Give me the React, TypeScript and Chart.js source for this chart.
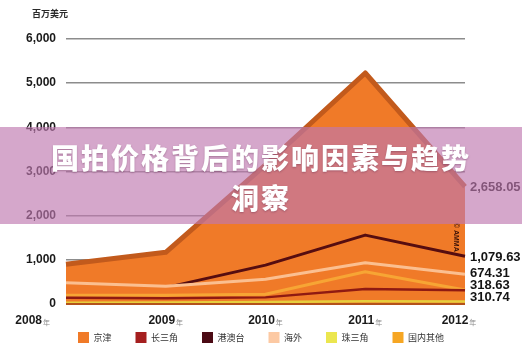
import React, { useEffect, useRef } from "react";
import { Chart, registerables } from "chart.js";

Chart.register(...registerables);

// ---- data ----
const years = ["2008", "2009", "2010", "2011", "2012"];
const yearSuffix = "年";
const seriesNames = ["京津", "长三角", "港澳台", "海外", "珠三角", "国内其他"];
const jingjin = [900, 1170, 3150, 5230, 2658.05];
const changsanjiao = [140, 130, 150, 340, 310.74];
const gangaotai = [300, 370, 880, 1560, 1079.63];
const haiwai = [480, 400, 560, 935, 674.31];
const zhusanjiao = [30, 35, 45, 60, 55];
const guoneiqita = [200, 200, 220, 730, 318.63];
const yMin = 0;
const yMax = 6000;
const yStep = 1000;
const unitLabel = "百万美元";
const endLabelSeries = ["京津", "港澳台", "海外", "国内其他", "长三角"];
const creditText = "© AMMA";
const bannerLine1 = "国拍价格背后的影响因素与趋势";
const bannerLine2 = "洞察";

// ---- styles ----
const areaFill = "#f07a28";
const legendColors = ["#f07a28", "#a51f1f", "#4b0a14", "#fcc9a3", "#ebe64f", "#f6a623"];
const lineColors = ["#c25a1c", "#8f1a12", "#560d10", "#fbbf90", "#e6cf3e", "#f7a534"];
const lineWidths = [5, 2.5, 3, 3, 2.5, 3];
const drawOrder = [6, 2, 5, 4, 1, 3];
const seriesValues = [jingjin, changsanjiao, gangaotai, haiwai, zhusanjiao, guoneiqita];

const NARROW = '"Liberation Sans Narrow", "Liberation Sans", Arial, sans-serif';
const CJK = '"Noto Sans CJK SC", "Noto Sans", sans-serif';

const numFmt = (v: number, d: number) =>
  new Intl.NumberFormat("en-US", { minimumFractionDigits: d, maximumFractionDigits: d }).format(v);

const decorPlugin = {
  id: "decor",
  afterDatasetsDraw(chart: any) {
    const { ctx, chartArea, scales } = chart;
    const y = scales.y;
    const x = scales.x;
    ctx.save();
    // bottom edge
    ctx.strokeStyle = "#b4521a";
    ctx.lineWidth = 2;
    ctx.beginPath();
    ctx.moveTo(chartArea.left, y.getPixelForValue(0));
    ctx.lineTo(chartArea.right, y.getPixelForValue(0));
    ctx.stroke();

    // end labels
    const entries = endLabelSeries
      .map((name) => {
        const idx = seriesNames.indexOf(name);
        const vals = seriesValues[idx];
        const v = vals[vals.length - 1];
        return { v, y: y.getPixelForValue(v) };
      })
      .sort((a, b) => b.v - a.v);
    const gap = 12;
    for (let it = 0; it < 30; it++) {
      for (let i = 1; i < entries.length; i++) {
        const d = entries[i].y - entries[i - 1].y;
        if (d < gap) {
          const push = (gap - d) / 2;
          entries[i].y += push;
          entries[i - 1].y -= push;
        }
      }
    }
    ctx.font = `bold 13px ${NARROW}`;
    ctx.fillStyle = "#141414";
    ctx.textAlign = "left";
    ctx.textBaseline = "middle";
    entries.forEach((e) => ctx.fillText(numFmt(e.v, 2), chartArea.right + 5, e.y + 1));

    // credit
    const gi = seriesNames.indexOf("港澳台");
    const gv = seriesValues[gi][seriesValues[gi].length - 1];
    ctx.save();
    ctx.translate(chartArea.right - 9, y.getPixelForValue(gv) - 19);
    ctx.rotate(Math.PI / 2);
    ctx.font = `bold 7px "Liberation Sans", Arial, sans-serif`;
    ctx.fillStyle = "#3b1208";
    ctx.textAlign = "center";
    ctx.textBaseline = "middle";
    ctx.fillText(creditText, 0, 0);
    ctx.restore();

    // unit label
    ctx.font = `bold 9px ${CJK}`;
    ctx.fillStyle = "#2a2a2a";
    ctx.textAlign = "left";
    ctx.textBaseline = "middle";
    ctx.fillText(unitLabel, 32, 14);

    // x labels
    const ly = chartArea.bottom + 17;
    years.forEach((yr, i) => {
      const px = x.getPixelForValue(i);
      ctx.font = `bold 12px ${NARROW}`;
      const w1 = ctx.measureText(yr).width;
      ctx.font = `7px ${CJK}`;
      const w2 = ctx.measureText(yearSuffix).width;
      const total = w1 + 1 + w2;
      let start = px - total / 2;
      if (i === 0) start = px - 16 - total;
      if (i === years.length - 1) start = px - 6 - total / 2;
      ctx.textAlign = "left";
      ctx.textBaseline = "middle";
      ctx.font = `bold 12px ${NARROW}`;
      ctx.fillStyle = "#1a1a1a";
      ctx.fillText(yr, start, ly);
      ctx.font = `7px ${CJK}`;
      ctx.fillStyle = "#8a8a8a";
      ctx.fillText(yearSuffix, start + w1 + 1, ly + 1);
    });
    ctx.restore();
  },
};

export default function App() {
  const ref = useRef<HTMLCanvasElement | null>(null);
  useEffect(() => {
    if (!ref.current) return;
    const chart = new Chart(ref.current, {
      type: "line",
      data: {
        labels: years,
        datasets: seriesNames.map((name, i) => ({
          label: name,
          data: seriesValues[i],
          fill: "origin",
          backgroundColor: areaFill,
          borderColor: lineColors[i],
          borderWidth: lineWidths[i],
          pointRadius: 0,
          tension: 0,
          order: drawOrder[i],
          borderJoinStyle: "round" as const,
          yAxisID: "y",
        })),
      },
      options: {
        animation: false,
        responsive: true,
        maintainAspectRatio: false,
        layout: { padding: { left: 0, right: 0, top: 39, bottom: 0 } },
        plugins: {
          tooltip: { enabled: false },
          legend: {
            position: "bottom",
            labels: {
              boxWidth: 11,
              boxHeight: 11,
              padding: 24,
              color: "#333",
              font: { size: 9, family: CJK },
              sort: (a: any, b: any) => a.datasetIndex - b.datasetIndex,
              generateLabels: (c: any) => {
                const items = (Chart.defaults.plugins.legend.labels as any).generateLabels(c);
                return items.map((it: any) => ({
                  ...it,
                  fillStyle: legendColors[it.datasetIndex],
                  strokeStyle: legendColors[it.datasetIndex],
                  lineWidth: 0,
                }));
              },
            },
          },
        },
        scales: {
          x: {
            type: "category",
            offset: false,
            grid: { display: true, drawOnChartArea: false, drawTicks: true, tickLength: 4, color: "rgba(0,0,0,0)" },
            border: { display: false },
            ticks: { display: false },
          },
          y: {
            min: yMin,
            max: yMax,
            afterFit: (s: any) => {
              s.width = 66;
            },
            grid: { color: "#8c8c8c", lineWidth: 1.5, drawTicks: false },
            border: { display: false },
            ticks: {
              stepSize: yStep,
              padding: 10,
              color: "#1a1a1a",
              font: { size: 12, weight: "bold", family: NARROW },
              callback: (v: any) => numFmt(Number(v), 0),
            },
          },
          yRight: {
            position: "right",
            afterFit: (s: any) => {
              s.width = 57;
            },
            grid: { display: false, drawTicks: false },
            border: { display: false },
            ticks: { display: false },
          },
        },
      },
      plugins: [decorPlugin],
    });
    return () => chart.destroy();
  }, []);

  return (
    <div style={{ position: "absolute", left: 0, top: 0, width: 522, height: 353, background: "#fff", overflow: "hidden" }}>
      <canvas ref={ref} />
      <div
        style={{
          position: "absolute",
          left: 0,
          top: 127,
          width: 522,
          height: 97,
          background: "rgba(190,120,175,0.65)",
          color: "#fff",
          fontFamily: CJK,
          fontWeight: 900,
          fontSize: 28,
          letterSpacing: 2,
          lineHeight: "40px",
          paddingTop: 10,
          boxSizing: "border-box",
          textAlign: "center",
          textShadow: "0 1px 2px rgba(80,30,60,0.35)",
        }}
      >
        {bannerLine1}
        <br />
        {bannerLine2}
      </div>
    </div>
  );
}
